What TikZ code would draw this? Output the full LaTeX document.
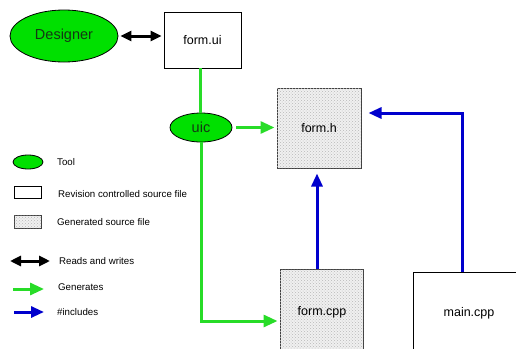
\documentclass[tikz,border=0pt]{standalone}
\usepackage{fontspec}
\setmainfont{Liberation Sans}
\usetikzlibrary{shapes.geometric,arrows.meta,patterns}
\definecolor{toolgreen}{RGB}{0,224,0}
\definecolor{gline}{RGB}{40,220,40}
\definecolor{bline}{RGB}{0,0,205}
\definecolor{tooltext}{RGB}{20,55,20}
\tikzset{
  tool/.style={ellipse, draw=black, line width=0.8pt, fill=toolgreen, inner sep=0pt, text=tooltext, font=\fontsize{14.5}{16}\selectfont},
  srcfile/.style={rectangle, draw=black, line width=0.8pt, fill=white, inner sep=0pt, font=\fontsize{12.5}{15}\selectfont},
  genfile/.style={rectangle, draw=black!75, line width=1pt, fill=gray!12, postaction={pattern=crosshatch dots, pattern color=gray!55}, inner sep=0pt, font=\fontsize{12.5}{15}\selectfont},
  rw/.style={line width=3pt, black, {Triangle[length=11pt,width=10pt]}-{Triangle[length=11pt,width=10pt]}},
  gen/.style={line width=3pt, gline, -{Triangle[length=14pt,width=12pt]}},
  genline/.style={line width=3pt, gline},
  inc/.style={line width=3pt, bline, -{Triangle[length=13pt,width=11pt]}},
  legtext/.style={anchor=west, font=\fontsize{9.7}{11}\selectfont, inner sep=0pt}
}
\begin{document}
\begin{tikzpicture}[x=1pt,y=-1pt]
\useasboundingbox (0,0) rectangle (516,348);
\clip (0,0) rectangle (516,348);
\fill[white] (0,0) rectangle (516,348);
% main nodes
\node[tool, minimum width=108pt, minimum height=52pt] (designer) at (64,36) {Designer};
\node[srcfile, minimum width=77pt, minimum height=56pt] (formui) at (202.5,40) {form.ui};
\node[tool, minimum width=62pt, minimum height=29pt] (uic) at (201,127.5) {uic};
\node[genfile, minimum width=84pt, minimum height=80pt] (formh) at (319,128) {form.h};
\node[genfile, minimum width=83pt, minimum height=86pt] (formcpp) at (321.5,312) {};
\node at (322,312) [font=\fontsize{12.5}{15}\selectfont] (formcpplabel) {form.cpp};
\node[srcfile, minimum width=112pt, minimum height=82pt] (maincpp) at (469,313) {main.cpp};
% connectors
\draw[rw, shorten <=2pt, shorten >=2pt] (designer.east) -- (designer.east -| formui.west);
\draw[genline] ([xshift=-2.5pt]formui.south) -- ([xshift=-2.5pt]formui.south |- uic.north);
\draw[gen, shorten <=4pt, shorten >=2pt] (uic.east) -- (formh.west |- uic.east);
\draw[gen, shorten >=2pt] (uic.south) |- ([yshift=-9pt]formcpp.west);
\draw[inc, shorten >=5pt] ([xshift=-4.5pt]formcpp.north) -- ([xshift=-4.5pt]formcpp.north |- formh.south);
\draw[inc, shorten >=7pt] ([xshift=-7pt]maincpp.north) |- ([yshift=15pt]formh.east);
% legend
\node[tool, minimum width=30pt, minimum height=14pt] (legtool) at (28,162) {};
\node[legtext] (legtooltext) at (57,162) {Tool};
\node[srcfile, minimum width=27pt, minimum height=12pt] (legsrc) at (27.5,192) {};
\node[legtext] (legsrctext) at (58,194) {Revision controlled source file};
\node[genfile, minimum width=27pt, minimum height=13pt] (leggen) at (27.5,221.5) {};
\node[legtext] (leggentext) at (57,222) {Generated source file};
\coordinate (rwa) at (10,261);
\coordinate (rwb) at (50,261);
\draw[rw] (rwa) -- (rwb);
\node[legtext] (legrwtext) at (59,261) {Reads and writes};
\coordinate (ga) at (13,289);
\coordinate (gb) at (44,289);
\draw[gen] (ga) -- (gb);
\node[legtext] (leggentext2) at (58,287) {Generates};
\coordinate (ia) at (14,312);
\coordinate (ib) at (44,312);
\draw[inc] (ia) -- (ib);
\node[legtext] (leginctext) at (57,312) {\#includes};
\end{tikzpicture}
\end{document}
